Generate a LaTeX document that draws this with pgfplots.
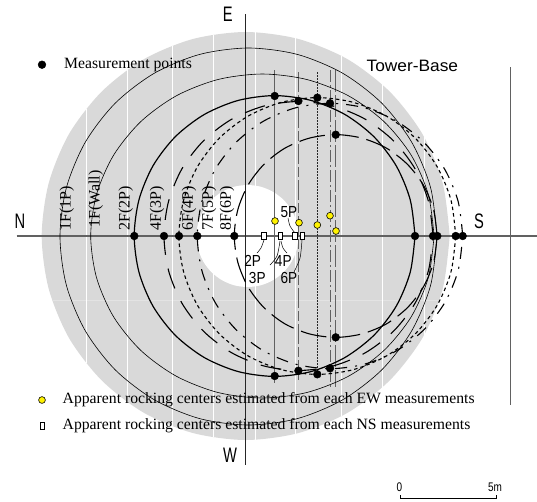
\documentclass[border=0pt]{standalone}
\usepackage{pgfplots}
\pgfplotsset{compat=1.18}
\usepackage{fontspec}
\setmainfont{Liberation Serif}
\newfontfamily\lsans{Liberation Sans}
\definecolor{disk}{gray}{0.85}
\definecolor{axg}{gray}{0.38}
\begin{document}
\begin{tikzpicture}
\useasboundingbox (0,0) rectangle (537pt,501pt);
\begin{axis}[at={(0,0)},anchor=south west,width=537pt,height=501pt,scale only axis,
  xmin=0,xmax=537,ymin=0,ymax=501,y dir=reverse,hide axis,clip=true]
% grey disk
\addplot[draw=none,fill=disk,smooth] coordinates {(449.7,236)(442.7,183.2)(422.4,134)(389.9,91.8)(347.7,59.3)(298.5,39)(245.7,32)(192.9,39)(143.7,59.3)(101.5,91.8)(69,134)(48.7,183.2)(41.7,236)(48.7,288.8)(69,338)(101.5,380.2)(143.7,412.7)(192.9,433)(245.7,440)(298.5,433)(347.7,412.7)(389.9,380.2)(422.4,338)(442.7,288.8)(449.7,236)};
% stripes
\addplot[gray!22,line width=1pt] coordinates {(52,300)(439.4,300)};
\addplot[white,line width=0.8pt] coordinates {(86,109)(86,363)};
\addplot[white,line width=0.8pt] coordinates {(127,70)(127,402)};
\addplot[white,line width=0.8pt] coordinates {(172.7,45.5)(172.7,426.5)};
\addplot[white,line width=0.8pt] coordinates {(213,34.6)(213,437.4)};
\addplot[white,line width=0.8pt] coordinates {(255,32)(255,440)};
\addplot[white,line width=0.8pt] coordinates {(295.7,38)(295.7,434)};
\addplot[white,line width=0.8pt] coordinates {(341.7,56)(341.7,416)};
\addplot[white,line width=0.8pt] coordinates {(382,84)(382,388)};
\addplot[white,line width=0.8pt] coordinates {(424,137)(424,335)};
% hole
\addplot[draw=none,fill=white,smooth] coordinates {(298.5,236)(296.8,222.8)(291.7,210.5)(283.6,199.9)(273,191.8)(260.7,186.7)(247.5,185)(234.3,186.7)(222,191.8)(211.4,199.9)(203.3,210.5)(198.2,222.8)(196.5,236)(198.2,249.2)(203.3,261.5)(211.4,272.1)(222,280.2)(234.3,285.3)(247.5,287)(260.7,285.3)(273,280.2)(283.6,272.1)(291.7,261.5)(296.8,249.2)(298.5,236)};
% axes lines
\addplot[axg,line width=1.1pt] coordinates {(16.7,236)(537,236)};
\addplot[axg,line width=1.1pt] coordinates {(510.7,67)(510.7,405)};
\addplot[black!85,line width=0.8pt] coordinates {(245.7,14)(245.7,465)};
\addplot[axg,line width=0.8pt] coordinates {(274.7,70)(274.7,383)};
\addplot[axg,line width=0.8pt,dash pattern=on 20pt off 3pt on 10pt off 3pt] coordinates {(298.5,72)(298.5,383)};
\addplot[black!85,line width=0.6pt,dash pattern=on 1.5pt off 1.5pt] coordinates {(317.3,72)(317.3,372)};
\addplot[axg,line width=0.8pt,dash pattern=on 12pt off 3pt on 2pt off 3pt] coordinates {(330,70)(330,387)};
\addplot[axg,line width=0.8pt,dash pattern=on 22pt off 3pt] coordinates {(335.7,70)(335.7,387)};
% 1F(1P)
\addplot[black,line width=0.6pt,smooth] coordinates {(437,236.5)(430.6,187.7)(411.7,142.2)(381.8,103.2)(342.8,73.3)(297.3,54.4)(248.5,48)(199.7,54.4)(154.2,73.3)(115.2,103.2)(85.3,142.2)(66.4,187.7)(60,236.5)(66.4,285.3)(85.3,330.8)(115.2,369.8)(154.2,399.7)(199.7,418.6)(248.5,425)(297.3,418.6)(342.8,399.7)(381.8,369.8)(411.7,330.8)(430.6,285.3)(437,236.5)};
% 1F(Wall)
\addplot[black,line width=0.6pt,smooth] coordinates {(434.1,236)(428.2,194.1)(411.1,155)(383.8,121.4)(348.3,95.7)(306.8,79.5)(262.4,74)(218,79.5)(176.5,95.7)(141,121.4)(113.7,155)(96.6,194.1)(90.7,236)(96.6,277.9)(113.7,317)(141,350.6)(176.5,376.3)(218,392.5)(262.4,398)(306.8,392.5)(348.3,376.3)(383.8,350.6)(411.1,317)(428.2,277.9)(434.1,236)};
% 2F(2P)
\addplot[black,line width=1.2pt,smooth] coordinates {(415,236)(410.2,199.7)(396.2,165.8)(373.9,136.7)(344.8,114.4)(310.9,100.4)(274.6,95.6)(238.3,100.4)(204.4,114.4)(175.3,136.7)(153,165.8)(139,199.7)(134.2,236)(139,272.3)(153,306.2)(175.3,335.3)(204.4,357.6)(238.3,371.6)(274.6,376.4)(310.9,371.6)(344.8,357.6)(373.9,335.3)(396.2,306.2)(410.2,272.3)(415,236)};
% 4F(3P)
\addplot[black,line width=1.1pt,smooth,dash pattern=on 21pt off 14pt] coordinates {(433,236)(428.4,201.2)(415,168.7)(393.6,140.9)(365.8,119.5)(333.3,106.1)(298.5,101.5)(263.7,106.1)(231.2,119.5)(203.4,140.9)(182,168.7)(168.6,201.2)(164,236)(168.6,270.8)(182,303.3)(203.4,331.1)(231.2,352.5)(263.7,365.9)(298.5,370.5)(333.3,365.9)(365.8,352.5)(393.6,331.1)(415,303.3)(428.4,270.8)(433,236)};
% 6F(4P)
\addplot[black,line width=1.1pt,smooth,dash pattern=on 3.5pt off 3pt] coordinates {(455.7,236)(451,200.2)(437.2,166.8)(415.2,138.1)(386.5,116.1)(353.1,102.3)(317.3,97.6)(281.5,102.3)(248.1,116.1)(219.4,138.1)(197.4,166.8)(183.6,200.2)(178.9,236)(183.6,271.8)(197.4,305.2)(219.4,333.9)(248.1,355.9)(281.5,369.7)(317.3,374.4)(353.1,369.7)(386.5,355.9)(415.2,333.9)(437.2,305.2)(451,271.8)(455.7,236)};
% 7F(5P)
\addplot[black,line width=1.1pt,smooth,dash pattern=on 12pt off 8pt on 2pt off 8pt] coordinates {(462.7,236)(458.2,201.7)(444.9,169.6)(423.8,142.2)(396.4,121.1)(364.3,107.8)(330,103.3)(295.7,107.8)(263.6,121.1)(236.2,142.2)(215.1,169.6)(201.8,201.7)(197.3,236)(201.8,270.3)(215.1,302.4)(236.2,329.8)(263.6,350.9)(295.7,364.2)(330,368.7)(364.3,364.2)(396.4,350.9)(423.8,329.8)(444.9,302.4)(458.2,270.3)(462.7,236)};
% 8F(6P)
\addplot[black,line width=1.1pt,smooth,dash pattern=on 26pt off 8pt] coordinates {(437.1,236)(433.6,209.8)(423.5,185.3)(407.4,164.3)(386.4,148.1)(361.9,138.1)(335.7,134.6)(309.5,138.1)(285,148.1)(264,164.3)(247.9,185.3)(237.8,209.8)(234.3,236)(237.8,262.2)(247.9,286.7)(264,307.7)(285,323.9)(309.5,333.9)(335.7,337.4)(361.9,333.9)(386.4,323.9)(407.4,307.7)(423.5,286.7)(433.6,262.2)(437.1,236)};
% leaders
\addplot[black,line width=0.5pt,smooth] coordinates {(288,218)(290,226)(295,233)};
\addplot[black,line width=0.5pt,smooth] coordinates {(264,240)(261,248)(257,253)};
\addplot[black,line width=0.5pt,smooth] coordinates {(280,241)(277,256)(270,265)};
\addplot[black,line width=0.5pt,smooth] coordinates {(281,241)(283,248)(287,253)};
\addplot[black,line width=0.5pt,smooth] coordinates {(302,240)(300,258)(294,272)};
% measurement points
\addplot[only marks,mark=*,mark size=3.9pt,mark options={fill=black,draw=black}] coordinates {(134.3,236)(164,236)(179,236)(197.3,236)(234.3,236)(415,236)(433,236)(437.3,236)(455.7,236)(462.7,236)(274.7,96)(298.4,101)(317.3,97.7)(330,103.3)(335.7,134.7)(274.7,376)(298.4,370.7)(317.3,374.3)(330,368.3)(335.7,337.3)(42,64.7)};
% EW
\addplot[only marks,mark=*,mark size=3.4pt,mark options={fill=yellow,draw=black,line width=0.6pt}] coordinates {(275,221)(299,222.7)(317.3,225)(330,215.7)(336,231)(42,400)};
% NS
\addplot[only marks,mark=square*,mark size=3.7pt,mark options={fill=white,draw=black,line width=0.6pt,line join=miter,xscale=0.6}] coordinates {(264,236)(280.3,236)(295,236)(302.3,236)(42.3,426)};
% scale
\addplot[black,line width=0.6pt] coordinates {(400,495)(400,498.3)(496.7,498.3)(496.7,495)};
% text
\node[anchor=west,inner sep=0,font=\fontsize{15.7}{16}\selectfont] at (axis cs:64,65) {Measurement points};
\node[anchor=west,inner sep=0,font=\fontsize{15.7}{16}\selectfont] at (axis cs:62.5,400) {Apparent rocking centers estimated from each EW measurements};
\node[anchor=west,inner sep=0,font=\fontsize{15.7}{16}\selectfont] at (axis cs:62.5,426) {Apparent rocking centers estimated from each NS measurements};
\foreach \x/\y/\t in {66.7/208.5/1F(1P),95.7/199/1F(Wall),125.7/208.5/2F(2P),157/208.5/4F(3P),189/208.5/6F(4P),209/208.5/7F(5P),227/208.5/8F(6P)}{
  \edef\tmp{\noexpand\node[rotate=90,inner sep=0,font=\noexpand\fontsize{16}{17}\noexpand\selectfont] at (axis cs:\x,\y) {\t};}\tmp
}
\foreach \x/\y/\t in {289/212/5P,252.7/260.7/2P,257.3/277.7/3P,283.3/260.7/4P,289/277.7/6P}{
  \edef\tmp{\noexpand\node[inner sep=0,xscale=0.85,font=\noexpand\lsans\noexpand\fontsize{16}{17}\noexpand\selectfont] at (axis cs:\x,\y) {\t};}\tmp
}
\foreach \x/\y/\t in {227.7/14.3/E,20/221.7/N,479/221.7/S,230/455/W}{
  \edef\tmp{\noexpand\node[inner sep=0,xscale=0.7,font=\noexpand\lsans\noexpand\fontsize{21}{22}\noexpand\selectfont] at (axis cs:\x,\y) {\t};}\tmp
}
\node[inner sep=0,xscale=1.05,font=\lsans\fontsize{16.5}{17}\selectfont] at (axis cs:412.3,66) {Tower-Base};
\node[inner sep=0,xscale=0.8,font=\lsans\fontsize{12.5}{13}\selectfont] at (axis cs:399.3,487) {0};
\node[inner sep=0,xscale=0.8,font=\lsans\fontsize{12.5}{13}\selectfont] at (axis cs:495,487) {5m};
\end{axis}
\end{tikzpicture}
\end{document}
